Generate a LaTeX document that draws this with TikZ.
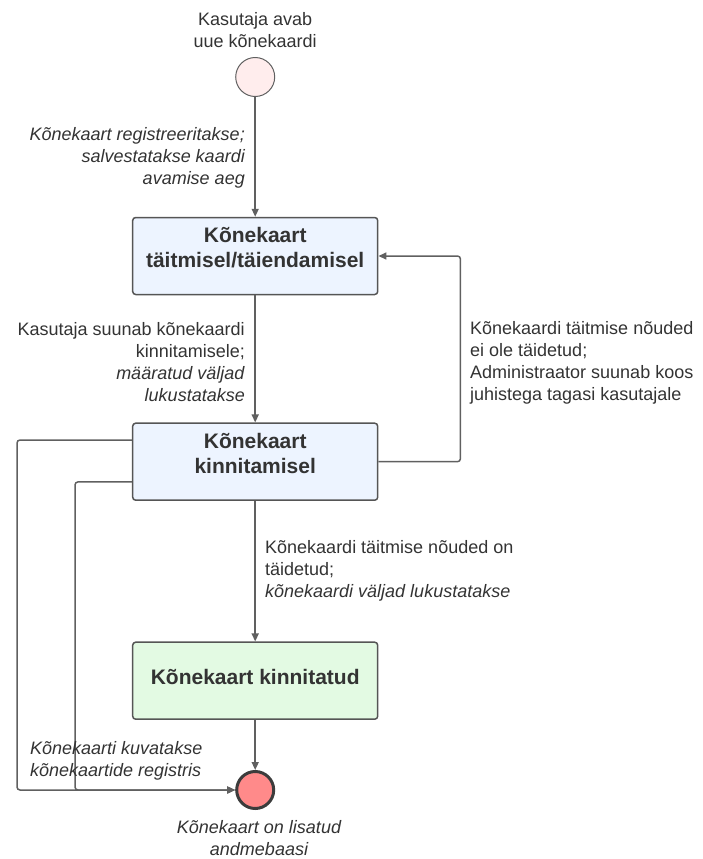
\documentclass[tikz,border=0pt]{standalone}
\usepackage{fontspec}
\setmainfont{Liberation Sans}
\usetikzlibrary{arrows.meta}
\definecolor{linec}{HTML}{606060}
\definecolor{boxline}{HTML}{555555}
\definecolor{txt}{HTML}{333333}
\definecolor{boxblue}{HTML}{EDF4FF}
\definecolor{boxgreen}{HTML}{E3FAE3}
\definecolor{startfill}{HTML}{FFEDED}
\definecolor{endfill}{HTML}{FF8A8A}
\definecolor{endline}{HTML}{3C3C3C}
\begin{document}
\begin{tikzpicture}[x=1pt,y=-1pt,
  stateBox/.style={draw=boxline, line width=1.5pt, rounded corners=3pt, minimum width=245pt, minimum height=77pt, inner sep=0pt},
  boxText/.style={font=\fontsize{21}{25}\selectfont\bfseries, text=txt, align=center, inner sep=0pt},
  lbl/.style={font=\fontsize{18}{22}\selectfont, text=txt, inner sep=0pt},
  conn/.style={draw=linec, line width=1.5pt, -{Triangle[length=8pt,width=7pt]}, rounded corners=3pt},
]
\useasboundingbox (0,0) rectangle (703,859);

% states
\node[circle, draw=linec, line width=1pt, fill=startfill, minimum size=39pt, inner sep=0pt] (start) at (255.2,77) {};
\node[stateBox, fill=boxblue] (b1) at (255.2,256) {};
\node[stateBox, fill=boxblue] (b2) at (255.2,461.7) {};
\node[stateBox, fill=boxgreen] (b3) at (255.2,680.7) {};
\node[circle, draw=endline, line width=3pt, fill=endfill, minimum size=37pt, inner sep=0pt] (end) at (255.2,790) {};

\node[boxText] (t1) at ([yshift=8.5pt]b1.center) {Kõnekaart\\täitmisel/täiendamisel};
\node[boxText] (t2) at ([yshift=8pt]b2.center) {Kõnekaart\\kinnitamisel};
\node[boxText] (t3) at ([yshift=3.5pt]b3.center) {Kõnekaart kinnitatud};

% helper coordinates
\coordinate (lc1) at (17,790);
\coordinate (lc2) at (75,790);

% connectors
\draw[conn] (start.south) -- (b1.north);
\draw[conn] (b1.south) -- (b2.north);
\draw[conn] (b2.south) -- (b3.north);
\draw[conn] (b3.south) -- (end.north);
\draw[conn] (b2.east) -- ++(82,0) |- (b1.east);
\draw[conn] ([yshift=21.7pt]b2.west) -| (lc1) -- (end.west);
\draw[conn] ([yshift=-20.2pt]b2.west) -| (lc2) -- (end.west);

% labels
\node[lbl, anchor=north, align=center] (l0) at (255.2,12) {Kasutaja avab\\uue kõnekaardi};
\node[lbl, anchor=north east, align=right, font=\fontsize{18}{22}\selectfont\itshape] (l1) at (245,127) {Kõnekaart registreeritakse;\\salvestatakse kaardi\\avamise aeg};
\node[lbl, anchor=north east, align=right] (l2) at (245,322) {Kasutaja suunab kõnekaardi\\kinnitamisele;\\\textit{määratud väljad}\\\textit{lukustatakse}};
\node[lbl, anchor=north west, align=left] (l3) at (470,321) {Kõnekaardi täitmise nõuded\\ei ole täidetud;\\Administraator suunab koos\\juhistega tagasi kasutajale};
\node[lbl, anchor=north west, align=left] (l4) at (265,540) {Kõnekaardi täitmise nõuded on\\täidetud;\\\textit{kõnekaardi väljad lukustatakse}};
\node[lbl, anchor=north west, align=left, font=\fontsize{18}{22}\selectfont\itshape] (l5) at (30,741) {Kõnekaarti kuvatakse\\kõnekaartide registris};
\node[lbl, anchor=north, align=center, font=\fontsize{18}{22}\selectfont\itshape] (l6) at (259,820) {Kõnekaart on lisatud\\andmebaasi};
\end{tikzpicture}
\end{document}
